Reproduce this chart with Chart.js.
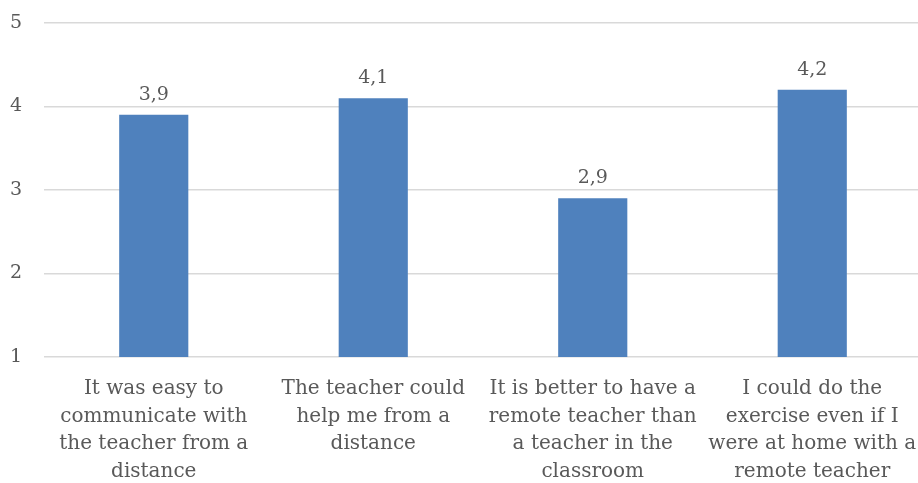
<!DOCTYPE html>
<html>
<head>
<meta charset="utf-8">
<script src="https://cdn.jsdelivr.net/npm/chart.js@4/dist/chart.umd.min.js"></script>
<style>
  html, body { margin: 0; padding: 0; background: #ffffff; overflow: hidden; }
  #wrap { width: 922px; height: 483px; position: relative; }
</style>
</head>
<body>
<div id="wrap"><canvas id="chart"></canvas></div>
<script>
// Survey statements (wrapped onto lines) and their mean scores
const statements = [
  ["It was easy to", "communicate with", "the teacher from a", "distance"],
  ["The teacher could", "help me from a", "distance"],
  ["It is better to have a", "remote teacher than", "a teacher in the", "classroom"],
  ["I could do the", "exercise even if I", "were at home with a", "remote teacher"]
];
const meanScores = [3.9, 4.1, 2.9, 4.2];
const scaleTicks = [1, 2, 3, 4, 5];

const FONT = "'DejaVu Serif', serif";
const TEXT = "#595959";

// Writes each bar's value (decimal comma) just above the bar
const valueLabels = {
  id: "valueLabels",
  afterDatasetsDraw(chart) {
    const ctx = chart.ctx;
    const meta = chart.getDatasetMeta(0);
    const data = chart.data.datasets[0].data;
    ctx.save();
    ctx.font = "19px " + FONT;
    ctx.fillStyle = TEXT;
    ctx.textAlign = "center";
    ctx.textBaseline = "alphabetic";
    meta.data.forEach((bar, i) => {
      ctx.fillText(data[i].toFixed(1).replace(".", ","), bar.x, bar.y - 15);
    });
    ctx.restore();
  }
};

new Chart(document.getElementById("chart"), {
  type: "bar",
  data: {
    labels: statements,
    datasets: [{
      data: meanScores,
      backgroundColor: "#4f81bd",
      borderWidth: 0,
      categoryPercentage: 1,
      barPercentage: 0.315
    }]
  },
  options: {
    responsive: true,
    maintainAspectRatio: false,
    animation: false,
    layout: { padding: { top: 23, right: 0, left: 7, bottom: 0 } },
    plugins: { legend: { display: false }, tooltip: { enabled: false } },
    scales: {
      x: {
        afterFit(scale) {
          scale.height = 126;
          scale.paddingLeft = 0;
          scale.paddingRight = 0;
        },
        grid: { display: false, drawTicks: false },
        border: { display: false },
        ticks: {
          color: TEXT,
          font: { family: FONT, size: 20, lineHeight: 1.385 },
          padding: 18,
          maxRotation: 0,
          autoSkip: false
        }
      },
      y: {
        min: 1,
        max: 5,
        afterBuildTicks(scale) { scale.ticks = scaleTicks.map(v => ({ value: v })); },
        afterFit(scale) {
          scale.width = 37;
          scale.paddingTop = 0;
          scale.paddingBottom = 0;
        },
        grid: { color: "#d9d9d9", lineWidth: 1.5, drawTicks: false },
        border: { display: false },
        ticks: {
          color: TEXT,
          font: { family: FONT, size: 19 },
          padding: 22
        }
      }
    }
  },
  plugins: [valueLabels]
});
</script>
</body>
</html>
